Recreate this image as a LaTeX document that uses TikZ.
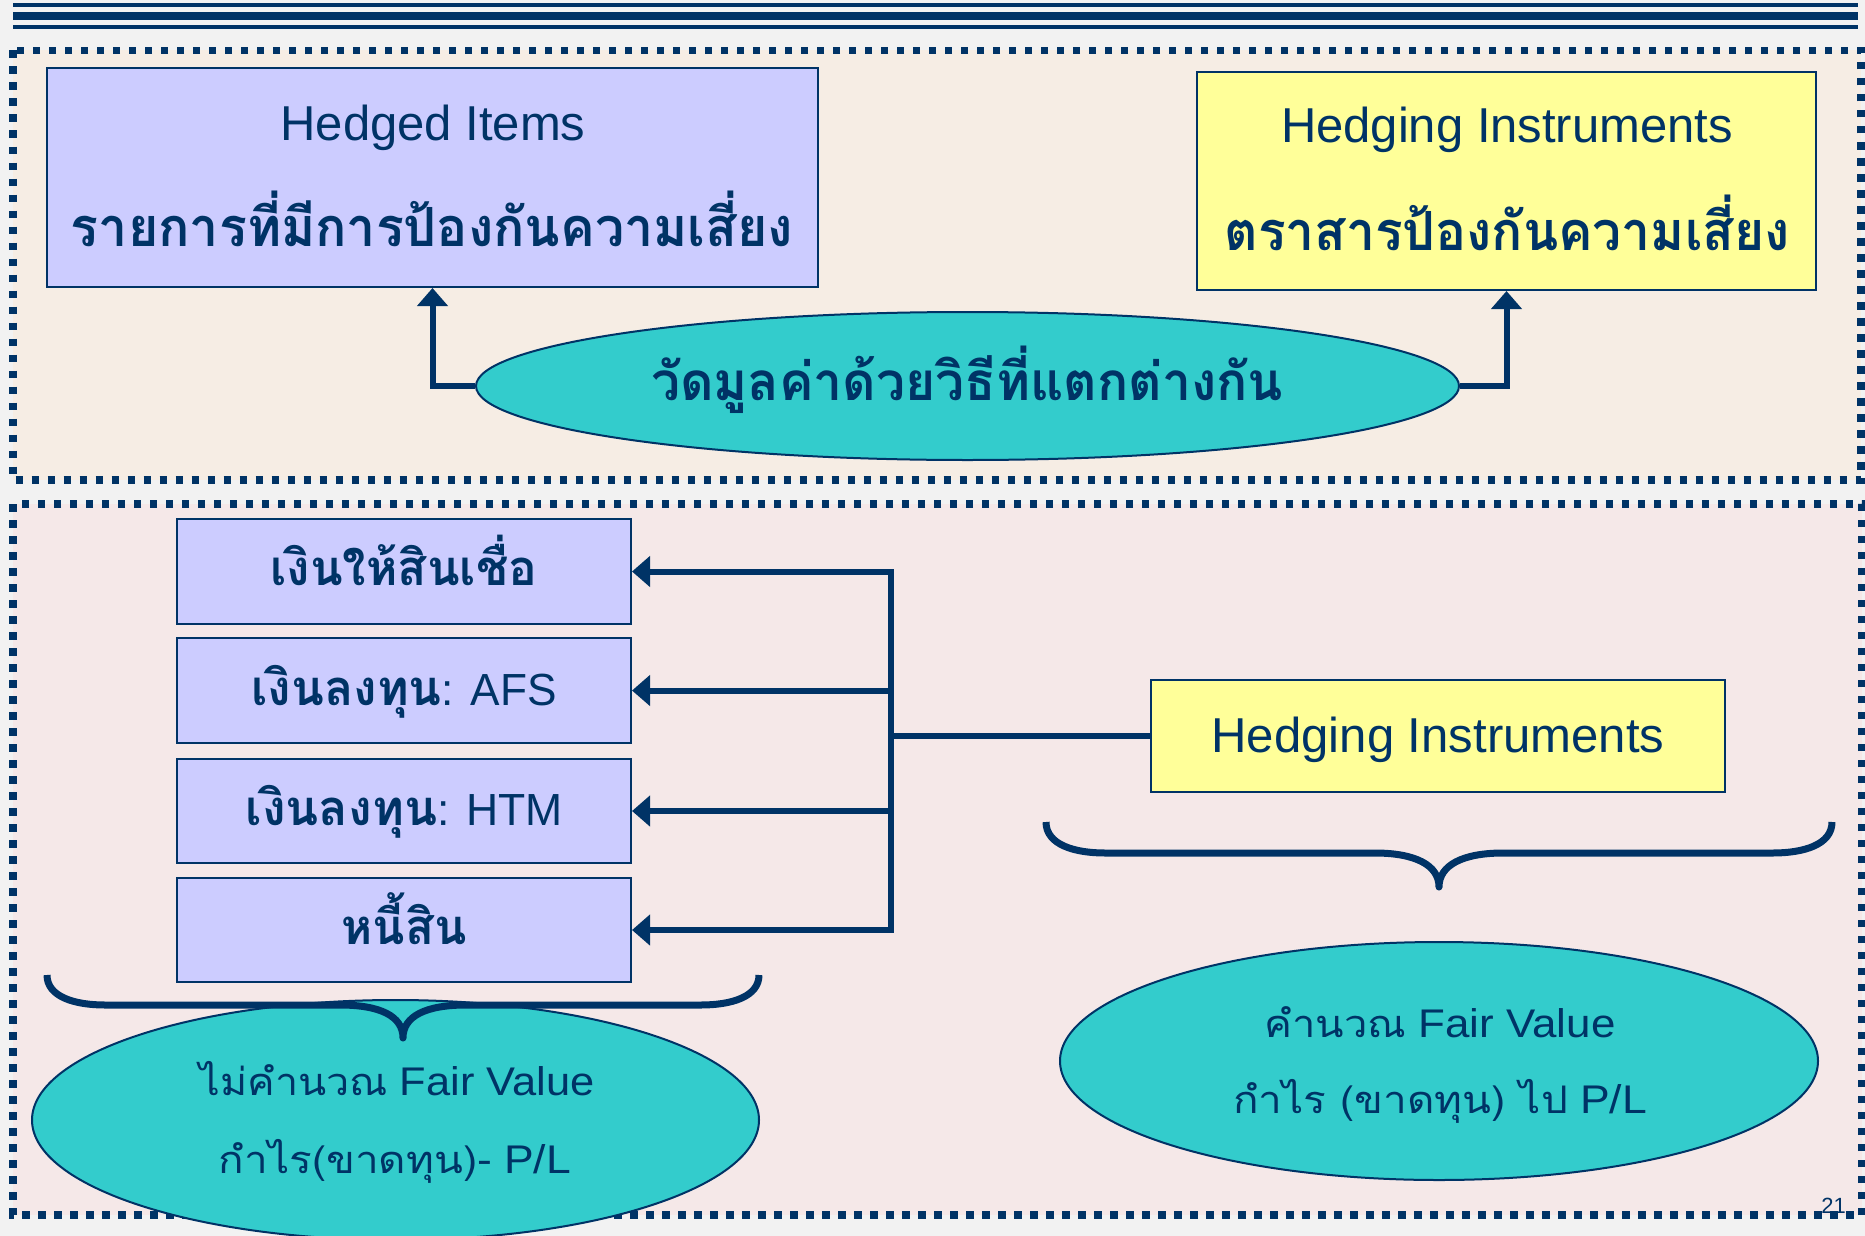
\documentclass[tikz,border=0pt]{standalone}
\usepackage{fontspec}
\usepackage{graphicx}
\setmainfont{Liberation Sans}
\newfontfamily\thai[Script=Thai]{Loma}
\usetikzlibrary{arrows.meta,shapes.geometric}
\definecolor{navy}{HTML}{003366}
\definecolor{lav}{HTML}{CCCCFF}
\definecolor{yel}{HTML}{FFFF99}
\definecolor{tealfill}{HTML}{33CCCC}
\definecolor{peachbg}{HTML}{F6EDE4}
\definecolor{pinkbg}{HTML}{F5E8E8}
\definecolor{outerbg}{HTML}{F2F2F2}
\newcommand\tw[3]{\resizebox{#1pt}{\height}{\fontsize{#2}{#2}\selectfont #3}}
\newcommand\thb[2]{{\fontsize{#1}{#1}\selectfont\thai\bfseries #2}}
\newcommand\thr[2]{{\fontsize{#1}{#1}\selectfont\thai #2}}
\begin{document}
\begin{tikzpicture}[x=1pt,y=-1pt,
  dotbox/.style={draw=navy,line width=7.5pt,dash pattern=on 7.5pt off 8.5pt},
  itembox/.style={draw=navy,line width=2pt,fill=lav,inner sep=0pt},
  instbox/.style={draw=navy,line width=2pt,fill=yel,inner sep=0pt},
  oval/.style={ellipse,draw=navy,line width=2pt,fill=tealfill,inner sep=0pt},
  txt/.style={inner sep=0pt,anchor=base,text=navy},
  conn/.style={draw=navy,line width=6pt,-{Triangle[length=18pt,width=30pt]}},
  link/.style={draw=navy,line width=6pt},
  brace/.style={draw=navy,line width=7pt,line join=round}]
\useasboundingbox[fill=outerbg] (0,0) rectangle (1865,1236);
% header rules
\draw[navy,line width=3.5pt] (13,5) -- (1858,5);
\draw[navy,line width=7.7pt] (13,16) -- (1858,16);
\draw[navy,line width=4.3pt] (13,27) -- (1858,27);
% panels
\fill[peachbg] (13,50.5) rectangle (1861,480);
\fill[pinkbg] (13,504) rectangle (1862,1215);
\draw[dotbox] (13,50.5) rectangle (1861,480);
\draw[dotbox] (13,504) rectangle (1862,1215);
% top panel
\node[itembox,minimum width=771pt,minimum height=219pt] (hedged) at (432.5,177.5) {};
\node[instbox,minimum width=619pt,minimum height=218pt] (hedging) at (1506.5,181) {};
\node[oval,minimum width=983pt,minimum height=148pt] (measure) at (967.5,386) {};
\draw[conn] (measure.west) -| (hedged.south);
\draw[conn] (measure.east) -| (hedging.south);
\node[txt] (t1) at (433,140) {\tw{305}{49}{Hedged Items}};
\node[txt] (t2) at (432,246) {\tw{722}{50}{\thb{54}{รายการที่มีการป้องกันความเสี่ยง}}};
\node[txt] (t3) at (1507,142) {\tw{452}{49}{Hedging Instruments}};
\node[txt] (t4) at (1507,250) {\tw{565}{50}{\thb{54}{ตราสารป้องกันความเสี่ยง}}};
\node[txt] (t5) at (967,400) {\tw{632}{50}{\thb{53}{วัดมูลค่าด้วยวิธีที่แตกต่างกัน}}};
% lower panel
\node[itembox,minimum width=454pt,minimum height=105pt] (loan) at (404,571.5) {};
\node[itembox,minimum width=454pt,minimum height=105pt] (afs) at (404,690.5) {};
\node[itembox,minimum width=454pt,minimum height=104pt] (htm) at (404,811) {};
\node[itembox,minimum width=454pt,minimum height=104pt] (liab) at (404,930) {};
\node[instbox,minimum width=574pt,minimum height=112pt] (hi2) at (1438,736) {};
\coordinate (j) at (891,736);
\draw[link] (hi2.west) -- (j);
\draw[conn] (j) |- (loan.east);
\draw[conn] (j) |- (afs.east);
\draw[conn] (j) |- (htm.east);
\draw[conn] (j) |- (liab.east);
\node[txt] (b1) at (404,585) {\tw{267}{45}{\thb{49}{เงินให้สินเชื่อ}}};
\node[txt] (b2) at (404,705) {\tw{305}{45}{\thb{49}{เงินลงทุน}: AFS}};
\node[txt] (b3) at (404,825) {\tw{317}{45}{\thb{49}{เงินลงทุน}: HTM}};
\node[txt] (b4) at (404,944) {\tw{125}{45}{\thb{49}{หนี้สิน}}};
\node[txt] (h2) at (1438,752) {\tw{453}{49}{Hedging Instruments}};
% ovals
\node[oval,minimum width=727pt,minimum height=240pt] (nofv) at (395.5,1120) {};
\node[oval,minimum width=758pt,minimum height=238pt] (fv) at (1439,1061) {};
\node[txt] (n1) at (397,1095) {\tw{395}{40}{\thr{38}{ไม่คำนวณ} Fair Value}};
\node[txt] (n2) at (395,1173) {\tw{352}{40}{\thr{38}{กำไร(ขาดทุน)}- P/L}};
\node[txt] (f1) at (1440,1037) {\tw{351}{40}{\thr{38}{คำนวณ} Fair Value}};
\node[txt] (f2) at (1440,1113) {\tw{414}{40}{\thr{38}{กำไร (ขาดทุน) ไป} P/L}};
% braces
\draw[brace] (1046,822) .. controls (1046,845) and (1075,853) .. (1105,853) -- (1375,853)
  .. controls (1415,853) and (1439,865) .. (1439,887)
  .. controls (1439,865) and (1463,853) .. (1503,853) -- (1773,853)
  .. controls (1803,853) and (1832,845) .. (1832,822);
\draw[brace] (47,975) .. controls (47,997) and (75,1005) .. (105,1005) -- (340,1005)
  .. controls (380,1005) and (403,1016) .. (403,1038)
  .. controls (403,1016) and (426,1005) .. (466,1005) -- (701,1005)
  .. controls (731,1005) and (759,997) .. (759,975);
% page number
\node[txt,anchor=base east] (pg) at (1846,1213) {\fontsize{22}{22}\selectfont 21};
\end{tikzpicture}
\end{document}
